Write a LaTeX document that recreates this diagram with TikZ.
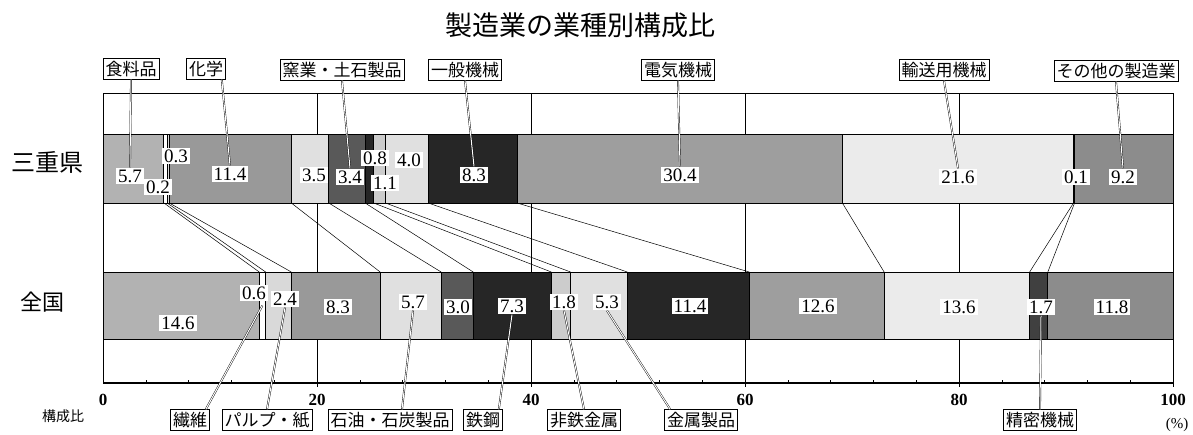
\documentclass[tikz,border=0pt]{standalone}
\usepackage{fontspec}
\setmainfont{Liberation Serif}
\newfontfamily\jp{Noto Sans CJK JP}
\usetikzlibrary{positioning}

\begin{document}
\begin{tikzpicture}[x=1pt, y=-1pt, pct/.style={minimum width=#1*10.7pt}]
  \tikzstyle{seg}=[rectangle, draw, line width=1pt, inner sep=0pt, outer sep=0pt]
  \tikzstyle{mie}=[seg, minimum height=69pt]
  \tikzstyle{zen}=[seg, minimum height=67pt]
  \tikzstyle{val}=[fill=white, inner sep=2pt, font=\fontsize{19}{19}\selectfont]
  \tikzstyle{tag}=[draw, fill=white, line width=0.6pt, inner sep=2.5pt, font=\jp\fontsize{17}{17}\selectfont]
  \tikzstyle{link}=[line width=0.5pt]
  \tikzstyle{lead}=[draw, line width=0.4pt, double, double distance=1pt]
  \tikzstyle{grid}=[line width=0.6pt]
  \useasboundingbox (0,0) rectangle (1193,434);

  % title and row names
  \node[font=\jp\fontsize{27}{27}\selectfont] (title) at (580,25) {製造業の業種別構成比};
  \node[font=\jp\fontsize{24}{24}\selectfont] (rowMie) at (47,162) {三重県};
  \node[font=\jp\fontsize{22}{22}\selectfont] (rowAll) at (42,302) {全国};

  % frame, grid, axis
  \foreach \p in {20,40,60,80}
    \draw[grid] ({103+\p*10.7},93) -- ({103+\p*10.7},387);
  \foreach \p in {4,8,12,16,24,28,32,36,44,48,52,56,64,68,72,76,84,88,92,96}
    \draw[line width=0.6pt] ({103+\p*10.7},383) -- ({103+\p*10.7},380);
  \draw[line width=0.8pt] (103,383) -- (103,93) -- (1173,93) -- (1173,387);
  \draw[line width=1.4pt] (103,383) -- (1173,383);
  \foreach \p in {0,20,40,60,80,100}
    \node[font=\fontsize{17}{17}\selectfont\bfseries] (tick\p) at ({103+\p*10.7},400) {\p};
  \node[font=\jp\fontsize{14}{14}\selectfont] (axname) at (63,416) {構成比};
  \node[font=\fontsize{15}{15}\selectfont] (unit) at (1177,425) {(\%)};

  % Mie bar
  \node[mie, pct=5.7, fill=black!30, anchor=west] (mFood) at (103,168.5) {};
  \node[mie, pct=0.3, fill=white, right=0pt of mFood] (mTex) {};
  \node[mie, pct=0.2, fill=black!15, right=0pt of mTex] (mPulp) {};
  \node[mie, pct=11.4, fill=black!40, right=0pt of mPulp] (mChem) {};
  \node[mie, pct=3.5, fill=black!12, right=0pt of mChem] (mOil) {};
  \node[mie, pct=3.4, fill=black!65, right=0pt of mOil] (mCer) {};
  \node[mie, pct=0.8, fill=black!85, right=0pt of mCer] (mIron) {};
  \node[mie, pct=1.1, fill=black!20, right=0pt of mIron] (mNonf) {};
  \node[mie, pct=4.0, fill=black!12, right=0pt of mNonf] (mMetal) {};
  \node[mie, pct=8.3, fill=black!85, right=0pt of mMetal] (mGen) {};
  \node[mie, pct=30.4, fill=black!38, right=0pt of mGen] (mElec) {};
  \node[mie, pct=21.6, fill=black!8, right=0pt of mElec] (mTrans) {};
  \node[mie, pct=0.1, fill=black!75, right=0pt of mTrans] (mPrec) {};
  \node[mie, pct=9.2, fill=black!45, right=0pt of mPrec] (mOther) {};

  % national bar
  \node[zen, pct=14.6, fill=black!30, anchor=west] (zFood) at (103,305.5) {};
  \node[zen, pct=0.6, fill=white, right=0pt of zFood] (zTex) {};
  \node[zen, pct=2.4, fill=black!15, right=0pt of zTex] (zPulp) {};
  \node[zen, pct=8.3, fill=black!40, right=0pt of zPulp] (zChem) {};
  \node[zen, pct=5.7, fill=black!12, right=0pt of zChem] (zOil) {};
  \node[zen, pct=3.0, fill=black!65, right=0pt of zOil] (zCer) {};
  \node[zen, pct=7.3, fill=black!85, right=0pt of zCer] (zIron) {};
  \node[zen, pct=1.8, fill=black!20, right=0pt of zIron] (zNonf) {};
  \node[zen, pct=5.3, fill=black!12, right=0pt of zNonf] (zMetal) {};
  \node[zen, pct=11.4, fill=black!85, right=0pt of zMetal] (zGen) {};
  \node[zen, pct=12.6, fill=black!38, right=0pt of zGen] (zElec) {};
  \node[zen, pct=13.6, fill=black!8, right=0pt of zElec] (zTrans) {};
  \node[zen, pct=1.7, fill=black!75, right=0pt of zTrans] (zPrec) {};
  \node[zen, pct=11.7, fill=black!45, right=0pt of zPrec] (zOther) {};

  % lines between the two bars
  \draw[link] (mFood.south east) -- (zFood.north east);
  \draw[link] (mTex.south east) -- (zTex.north east);
  \draw[link] (mPulp.south east) -- (zPulp.north east);
  \draw[link] (mChem.south east) -- (zChem.north east);
  \draw[link] (mOil.south east) -- (zOil.north east);
  \draw[link] (mCer.south east) -- (zCer.north east);
  \draw[link] (mIron.south east) -- (zIron.north east);
  \draw[link] (mNonf.south east) -- (zNonf.north east);
  \draw[link] (mMetal.south east) -- (zMetal.north east);
  \draw[link] (mGen.south east) -- (zGen.north east);
  \draw[link] (mElec.south east) -- (zElec.north east);
  \draw[link] (mTrans.south east) -- (zTrans.north east);
  \draw[link] (mPrec.south east) -- (zPrec.north east);

  % values, Mie
  \node[val] (vmFood) at (130,176) {5.7};
  \node[val] (vmTex) at (176,156) {0.3};
  \node[val] (vmPulp) at (158,187) {0.2};
  \node[val] (vmChem) at (230,174) {11.4};
  \node[val] (vmOil) at (314,175) {3.5};
  \node[val] (vmCer) at (350,177) {3.4};
  \node[val] (vmIron) at (375,158) {0.8};
  \node[val] (vmNonf) at (385,183) {1.1};
  \node[val] (vmMetal) at (409,160) {4.0};
  \node[val] (vmGen) at (474,175) {8.3};
  \node[val] (vmElec) at (680,175) {30.4};
  \node[val] (vmTrans) at (958,177) {21.6};
  \node[val] (vmPrec) at (1076,177) {0.1};
  \node[val] (vmOther) at (1123,177) {9.2};

  % values, national
  \node[val] (vzFood) at (178,323) {14.6};
  \node[val] (vzTex) at (254,293) {0.6};
  \node[val] (vzPulp) at (285,299) {2.4};
  \node[val] (vzChem) at (338,307) {8.3};
  \node[val] (vzOil) at (413,302) {5.7};
  \node[val] (vzCer) at (458,307) {3.0};
  \node[val] (vzIron) at (512,306) {7.3};
  \node[val] (vzNonf) at (564,302) {1.8};
  \node[val] (vzMetal) at (607,302) {5.3};
  \node[val] (vzGen) at (690,306) {11.4};
  \node[val] (vzElec) at (818,306) {12.6};
  \node[val] (vzTrans) at (959,307) {13.6};
  \node[val] (vzPrec) at (1041,307) {1.7};
  \node[val] (vzOther) at (1112,307) {11.8};

  % industry tags
  \node[tag] (tFood) at (131,69) {食料品};
  \node[tag] (tChem) at (206,69) {化学};
  \node[tag] (tCer) at (342,70) {窯業・土石製品};
  \node[tag] (tGen) at (465,70) {一般機械};
  \node[tag] (tElec) at (678,70) {電気機械};
  \node[tag] (tTrans) at (944,70) {輸送用機械};
  \node[tag] (tOther) at (1116,71) {その他の製造業};
  \node[tag] (tTex) at (190,420) {繊維};
  \node[tag] (tPulp) at (267,420) {パルプ・紙};
  \node[tag] (tOil) at (390,420) {石油・石炭製品};
  \node[tag] (tIron) at (483,420) {鉄鋼};
  \node[tag] (tNonf) at (584,420) {非鉄金属};
  \node[tag] (tMetal) at (701,420) {金属製品};
  \node[tag] (tPrec) at (1040,420) {精密機械};

  % leaders
  \draw[lead] (tFood.south) -- (vmFood.north);
  \draw[lead] ([xshift=-4pt]tChem.south east) -- (vmChem.north);
  \draw[lead] (tCer.south) -- (vmCer.north);
  \draw[lead] (tGen.south) -- (vmGen.north);
  \draw[lead] (tElec.south) -- (vmElec.north);
  \draw[lead] (tTrans.south) -- (vmTrans.north);
  \draw[lead] (tOther.south) -- (vmOther.north);
  \draw[lead] ([xshift=-4pt]tTex.north east) -- (zTex.center);
  \draw[lead] (tPulp.north) -- (vzPulp.south);
  \draw[lead] ([xshift=12pt]tOil.north) -- (vzOil.south);
  \draw[lead] ([xshift=-4pt]tIron.north east) -- (vzIron.south);
  \draw[lead] (tNonf.north) -- (vzNonf.south);
  \draw[lead] ([xshift=6pt]tMetal.north west) -- (vzMetal.south);
  \draw[lead] (tPrec.north) -- (vzPrec.south);
\end{tikzpicture}
\end{document}
